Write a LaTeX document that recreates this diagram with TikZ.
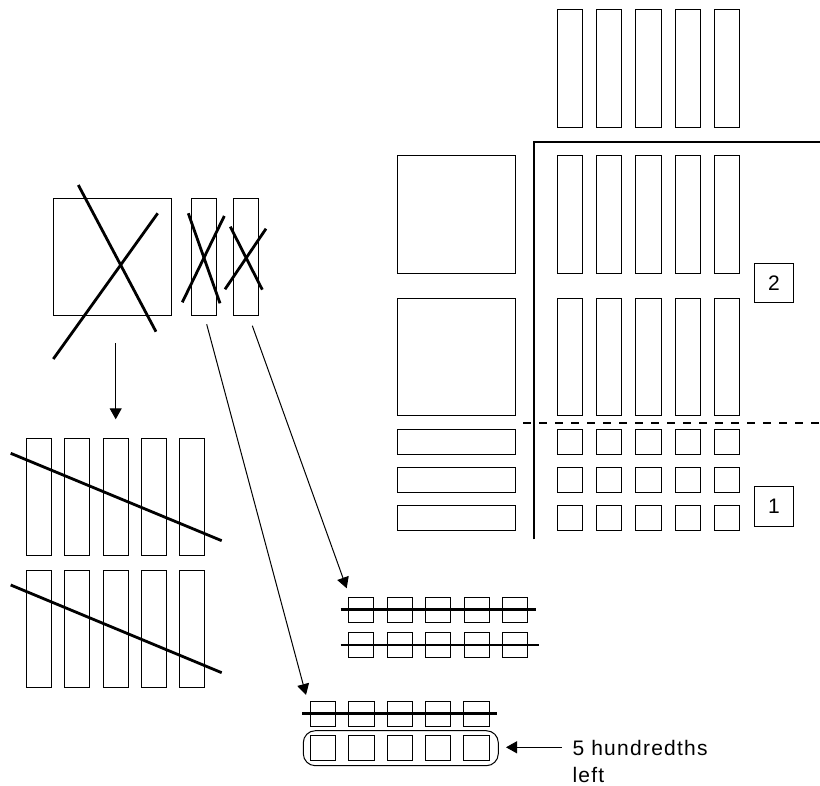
\documentclass[tikz,border=0pt]{standalone}
\usepackage{fontspec}
\setmainfont{Liberation Sans}
\usetikzlibrary{arrows.meta}
\begin{document}
\begin{tikzpicture}[x=1pt,y=-1pt,
  rbox/.style={draw=black, line width=1pt, inner sep=0pt, outer sep=0pt, fill=none},
  crossline/.style={line width=2.8pt, line cap=butt},
  partline/.style={line width=2.3pt},
  arr/.style={line width=1pt, -{Triangle[length=11pt,width=12pt]}},
  numbox/.style={rbox, minimum width=39.4pt, minimum height=39.6pt, font=\fontsize{21}{24}\selectfont}
]
\useasboundingbox (0,0) rectangle (820,786);

% ---- top-left crossed square and strips
\node[rbox, minimum width=118pt, minimum height=117pt] (sq0) at (112,257.5) {};
\node[rbox, minimum width=25pt, minimum height=117pt] (st1) at (203.8,257.5) {};
\node[rbox, minimum width=25.3pt, minimum height=117pt] (st2) at (246,257.5) {};
\draw[crossline] (78.3,185) -- (156,331.7);
\draw[crossline] (53.3,359) -- (157.7,213.3);
\draw[crossline] (188.3,213.3) -- (220,303.3);
\draw[crossline] (182.3,302.3) -- (224.3,216);
\draw[crossline] (230.3,226.7) -- (262.3,289.7);
\draw[crossline] (225,289.3) -- (266,228.7);

% ---- left columns (two groups of tenths)
\foreach \i in {0,...,4}{
  \node[rbox, minimum width=25pt, minimum height=116.7pt] (lt\i) at ({38.8+38.4*\i},496.7) {};
  \node[rbox, minimum width=25pt, minimum height=116.7pt] (lb\i) at ({38.8+38.4*\i},629) {};
}
\draw[crossline] (10.7,453.3) -- (221.7,540.7);
\draw[crossline] (10.7,585) -- (221.7,672.7);

% ---- right grid
\foreach \i in {0,...,4}{
  \node[rbox, minimum width=25.3pt, minimum height=117.7pt] (ra\i) at ({569.7+39.4*\i},68.2) {};
  \node[rbox, minimum width=25.3pt, minimum height=117.6pt] (rb\i) at ({569.7+39.4*\i},214.5) {};
  \node[rbox, minimum width=25.3pt, minimum height=117.4pt] (rc\i) at ({569.7+39.4*\i},357) {};
  \node[rbox, minimum width=25.3pt, minimum height=24.7pt] (rd\i) at ({569.7+39.4*\i},441.7) {};
  \node[rbox, minimum width=25.3pt, minimum height=24.7pt] (re\i) at ({569.7+39.4*\i},480) {};
  \node[rbox, minimum width=25.3pt, minimum height=24.7pt] (rf\i) at ({569.7+39.4*\i},518.3) {};
}
\node[rbox, minimum width=118pt, minimum height=117.6pt] (bq1) at (456.8,214.5) {};
\node[rbox, minimum width=118pt, minimum height=117.4pt] (bq2) at (456.8,357) {};
\node[rbox, minimum width=117.6pt, minimum height=24.7pt] (tr1) at (456.5,441.7) {};
\node[rbox, minimum width=117.6pt, minimum height=24.7pt] (tr2) at (456.5,480) {};
\node[rbox, minimum width=117.6pt, minimum height=24.7pt] (tr3) at (456.5,518.3) {};

\coordinate (Lb) at (534.3,539.3);
\coordinate (Lc) at (534.3,142.3);
\coordinate (Le) at (820,142.3);
\draw[partline] (Lb) -- (Lc) -- (Le);
\coordinate (Da) at (523.3,423.3);
\coordinate (Db) at (820,423.3);
\draw[partline, dash pattern=on 8pt off 8pt] (Da) -- (Db);

\node[numbox] (n2) at (774,283) {2};
\node[numbox] (n1) at (774,506.7) {1};

% ---- middle hundredths (two crossed rows)
\foreach \i in {0,...,4}{
  \node[rbox, minimum width=25.3pt, minimum height=25pt] (ma\i) at ({361.3+38.5*\i},609.8) {};
  \node[rbox, minimum width=25.3pt, minimum height=25pt] (mb\i) at ({361.3+38.5*\i},644.5) {};
}
\draw[crossline] (340.7,609.7) -- (536,609.7);
\draw[crossline] (340.7,645) -- (539.3,645);

% ---- bottom hundredths
\foreach \i in {0,...,4}{
  \node[rbox, minimum width=25.3pt, minimum height=24.7pt] (ba\i) at ({323.2+38.3*\i},713.7) {};
  \node[rbox, minimum width=25.3pt, minimum height=25pt] (bb\i) at ({323.2+38.3*\i},748.2) {};
}
\draw[crossline] (302.3,713.3) -- (497.3,713.3);
\node[rbox, rounded corners=12pt, minimum width=195pt, minimum height=35pt] (grp) at (400.8,748.2) {};

% ---- arrows
\coordinate (a0s) at (115.7,343.3);
\coordinate (a0e) at (115.7,419.3);
\draw[arr] (a0s) -- (a0e);
\coordinate (a1s) at (206.7,324.3);
\coordinate (a1e) at (306,695);
\draw[arr] (a1s) -- (a1e);
\coordinate (a2s) at (252.3,325.7);
\coordinate (a2e) at (346.7,588.3);
\draw[arr] (a2s) -- (a2e);
\coordinate (a3s) at (561.7,747.3);
\coordinate (a3e) at (506,747.3);
\draw[arr] (a3s) -- (a3e);

\node[anchor=north west, inner sep=0pt, align=left, font=\fontsize{21}{26.5}\selectfont\addfontfeature{LetterSpace=6}] (lbl) at (572.3,740.4) {5 hundredths\\left};
\end{tikzpicture}
\end{document}
